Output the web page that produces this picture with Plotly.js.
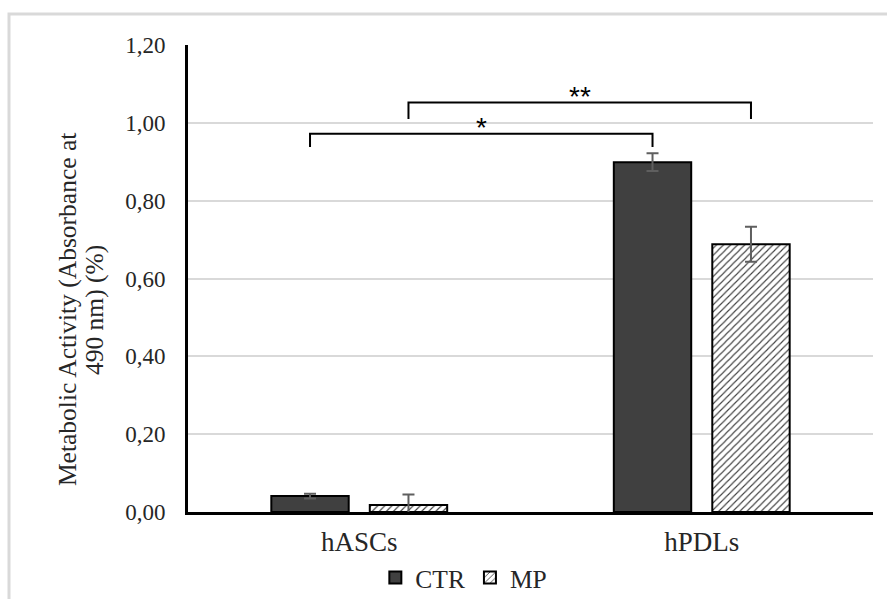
<!DOCTYPE html>
<html>
<head>
<meta charset="utf-8">
<script src="https://cdn.plot.ly/plotly-3.0.1.min.js"></script>
<style>html,body{margin:0;padding:0;background:#fff;}#chart{width:887px;height:599px;}</style>
</head>
<body>
<div id="chart"></div>
<script>
// ---- data ----
var categories = ['hASCs', 'hPDLs'];
var ctrValues = [0.041, 0.899];
var ctrErrors = [0.006, 0.023];
var mpValues = [0.018, 0.688];
var mpErrors = [0.027, 0.045];
var seriesNames = ['CTR', 'MP'];
var yTickVals = [0, 0.2, 0.4, 0.6, 0.8, 1.0, 1.2];
var yTitleLines = ['Metabolic Activity (Absorbance at', '490 nm) (%)'];
// significance brackets: [catFrom, seriesFrom, catTo, seriesTo, level, drop, label]
var brackets = [
  [0, 0, 1, 0, 0.972, 0.034, '*'],
  [0, 1, 1, 1, 1.052, 0.042, '**']
];

var bargap = 0.425, bargroupgap = 0.214;
var slot = (1 - bargap) / 2;
function barCenter(cat, s) { return cat + (s === 0 ? -slot / 2 : slot / 2); }

var serif = '"Liberation Serif", "Times New Roman", serif';
var txt = '#262626';

var traces = [
  {
    type: 'bar', name: seriesNames[0], x: categories, y: ctrValues,
    marker: {color: '#404040', line: {color: '#000', width: 2}},
    error_y: {type: 'data', array: ctrErrors, visible: true, color: '#5f5f5f', thickness: 2, width: 6}
  },
  {
    type: 'bar', name: seriesNames[1], x: categories, y: mpValues,
    marker: {color: '#fff', line: {color: '#000', width: 2},
      pattern: {shape: '/', fgcolor: '#404040', bgcolor: '#fff', size: 5, solidity: 0.22}},
    error_y: {type: 'data', array: mpErrors, visible: true, color: '#5f5f5f', thickness: 2, width: 6}
  }
];

var shapes = [];
var annotations = [];
brackets.forEach(function (b) {
  var x0 = barCenter(b[0], b[1]), x1 = barCenter(b[2], b[3]);
  var y = b[4], yd = b[4] - b[5];
  shapes.push({type: 'path', xref: 'x', yref: 'y',
    path: 'M' + x0 + ',' + yd + ' L' + x0 + ',' + y + ' L' + x1 + ',' + y + ' L' + x1 + ',' + yd,
    line: {color: '#000', width: 2}});
  annotations.push({xref: 'x', yref: 'y', x: (x0 + x1) / 2, y: y, yanchor: 'bottom', yshift: -11,
    text: b[6], showarrow: false, font: {family: '"Liberation Sans", Arial, sans-serif', size: 28, color: '#000'}});
});
// outer chart border
shapes.push({type: 'rect', xref: 'paper', yref: 'paper', x0: -0.2613, x1: 1.03, y0: -0.25, y1: 1.0664,
  line: {color: '#d9d9d9', width: 3}, layer: 'below'});

// y-axis title, two centred lines
var titleX = [-0.1766, -0.1372];
yTitleLines.forEach(function (line, i) {
  annotations.push({xref: 'paper', yref: 'paper', x: titleX[i], y: 0.4325, xanchor: 'center', yanchor: 'middle',
    textangle: -90, text: line, showarrow: false,
    font: {family: serif, size: 25.5, color: txt}});
});

var layout = {
  width: 887, height: 599,
  margin: {l: 188, r: 14, t: 45, b: 87, autoexpand: false},
  paper_bgcolor: '#fff', plot_bgcolor: '#fff',
  separators: ',.',
  barmode: 'group', bargap: bargap, bargroupgap: bargroupgap,
  font: {family: serif, size: 22, color: txt},
  xaxis: {type: 'category', showline: true, linecolor: '#000', linewidth: 3, ticks: '',
    showgrid: false, ticklabelstandoff: 4, tickfont: {family: serif, size: 27, color: txt}},
  yaxis: {range: [0, 1.2], tickvals: yTickVals, tickformat: '.2f', showline: true, linecolor: '#000',
    linewidth: 3, ticks: '', gridcolor: '#d9d9d9', gridwidth: 2, zeroline: false,
    ticklabelstandoff: 15, tickfont: {family: serif, size: 23, color: txt}},
  showlegend: true,
  legend: {orientation: 'h', xref: 'paper', x: 0.2735, xanchor: 'left', yref: 'container', y: 0.035, yanchor: 'middle',
    font: {family: serif, size: 25.5, color: txt}, itemwidth: 30, tracegroupgap: 0},
  shapes: shapes,
  annotations: annotations
};

Plotly.newPlot('chart', traces, layout, {displayModeBar: false, staticPlot: true});
</script>
</body>
</html>
